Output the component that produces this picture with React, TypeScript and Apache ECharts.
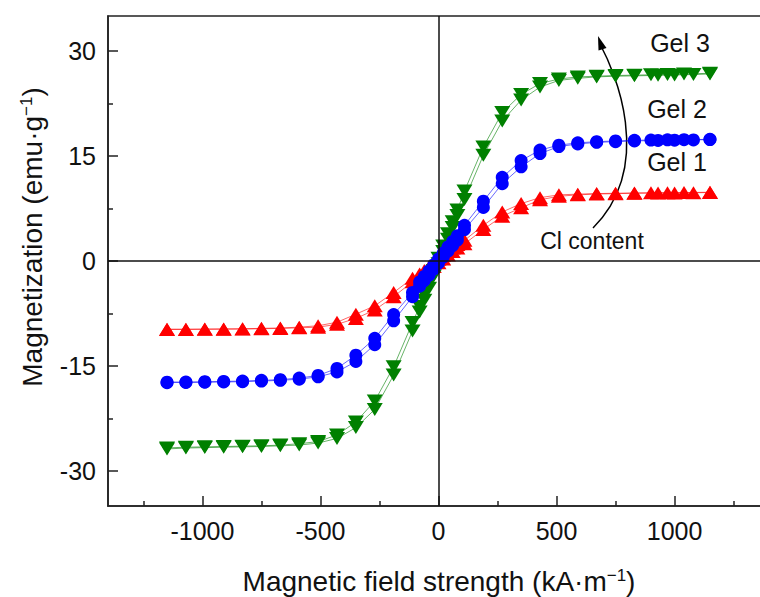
import React, { useEffect, useRef } from "react";
import * as echarts from "echarts";

// Magnetic field (kA·m^-1) — descending sweep (+ → −) and ascending sweep (− → +)
const fieldDown = [1150, 1040, 970, 900, 830, 750, 670, 590, 510, 430, 350, 270, 190, 110, 80, 60, 40, 20, 0, -20, -40, -60, -80, -110, -190, -270, -350, -430, -510, -590, -670, -750, -830, -910, -990, -1070, -1150];
const fieldUp = [-1150, -1070, -990, -910, -830, -750, -670, -590, -510, -430, -350, -270, -190, -110, -80, -60, -40, -20, 0, 20, 40, 60, 80, 110, 190, 270, 350, 430, 510, 590, 670, 750, 830, 930, 1000, 1080, 1150];

// Magnetization (emu·g^-1)
const gel1Down = [9.82, 9.78, 9.76, 9.74, 9.72, 9.68, 9.63, 9.55, 9.45, 9.05, 8.2, 7.0, 5.1, 2.95, 2.35, 1.85, 1.35, 0.8, 0.25, -0.3, -0.85, -1.35, -1.85, -2.45, -4.5, -6.4, -7.6, -8.75, -9.25, -9.45, -9.57, -9.62, -9.68, -9.7, -9.72, -9.74, -9.76];
const gel1Up = [-9.8, -9.78, -9.76, -9.74, -9.72, -9.68, -9.63, -9.55, -9.45, -9.05, -8.2, -7.0, -5.1, -2.95, -2.35, -1.85, -1.35, -0.8, -0.25, 0.3, 0.85, 1.35, 1.85, 2.45, 4.5, 6.4, 7.6, 8.75, 9.25, 9.45, 9.57, 9.62, 9.68, 9.71, 9.73, 9.75, 9.78];
const gel2Down = [17.38, 17.33, 17.31, 17.28, 17.24, 17.15, 17.05, 16.88, 16.55, 15.85, 14.35, 11.95, 8.55, 5.1, 3.6, 2.8, 2.0, 1.15, 0.3, -0.55, -1.4, -2.2, -3.0, -4.5, -7.65, -11.05, -13.45, -15.35, -16.35, -16.72, -16.95, -17.05, -17.15, -17.2, -17.25, -17.3, -17.32];
const gel2Up = [-17.38, -17.35, -17.32, -17.28, -17.24, -17.15, -17.05, -16.88, -16.55, -15.85, -14.35, -11.95, -8.55, -5.1, -3.6, -2.8, -2.0, -1.15, -0.3, 0.55, 1.4, 2.2, 3.0, 4.5, 7.65, 11.05, 13.45, 15.35, 16.35, 16.72, 16.95, 17.05, 17.15, 17.22, 17.26, 17.3, 17.34];
const gel3Down = [26.82, 26.7, 26.65, 26.6, 26.55, 26.5, 26.4, 26.3, 26.0, 25.35, 23.8, 21.2, 16.3, 10.0, 7.3, 5.6, 3.9, 2.15, 0.4, -1.35, -3.1, -4.8, -6.5, -8.8, -15.1, -20.0, -23.0, -24.85, -25.8, -26.1, -26.3, -26.4, -26.45, -26.5, -26.55, -26.6, -26.7];
const gel3Up = [-26.85, -26.72, -26.66, -26.6, -26.55, -26.5, -26.4, -26.3, -26.0, -25.35, -23.8, -21.2, -16.3, -10.0, -7.3, -5.6, -3.9, -2.15, -0.4, 1.35, 3.1, 4.8, 6.5, 8.8, 15.1, 20.0, 23.0, 24.85, 25.8, 26.1, 26.3, 26.4, 26.45, 26.52, 26.58, 26.64, 26.72];

const xMajorTicks = [-1000, -500, 0, 500, 1000];
const xMinorTicks = [-1250, -750, -250, 250, 750, 1250];
const yMajorTicks = [-30, -15, 0, 15, 30];
const yMinorTicks = [-22.5, -7.5, 7.5, 22.5];

const FONT = "'Liberation Sans', Arial, Helvetica, sans-serif";

function loop(xd: number[], yd: number[], xu: number[], yu: number[]) {
  return [...xd.map((x, i) => [x, yd[i]]), ...xu.map((x, i) => [x, yu[i]])];
}

export default function App() {
  const ref = useRef<HTMLDivElement>(null);
  useEffect(() => {
    document.body.style.overflow = "hidden";
    const chart = echarts.init(ref.current!, null, { renderer: "svg" });
    const axisColor = "#222";
    const mkX = (ticks: number[], len: number, labels: boolean) => ({
      type: "value",
      min: -1400,
      max: 1400,
      position: "bottom",
      axisLine: { show: labels, onZero: false, lineStyle: { color: axisColor, width: 1.6 } },
      axisTick: { show: true, inside: true, length: len, customValues: ticks, lineStyle: { color: axisColor, width: 1.5 } },
      axisLabel: labels
        ? { show: true, customValues: ticks, fontSize: 25, color: "#111", fontFamily: FONT, margin: 12, formatter: (v: number) => String(v) }
        : { show: false },
      splitLine: { show: false },
    });
    const mkY = (ticks: number[], len: number, labels: boolean) => ({
      type: "value",
      min: -35,
      max: 35,
      position: "left",
      axisLine: { show: labels, onZero: false, lineStyle: { color: axisColor, width: 1.6 } },
      axisTick: { show: true, inside: true, length: len, customValues: ticks, lineStyle: { color: axisColor, width: 1.5 } },
      axisLabel: labels
        ? { show: true, customValues: ticks, fontSize: 25, color: "#111", fontFamily: FONT, margin: 12, formatter: (v: number) => String(v) }
        : { show: false },
      splitLine: { show: false },
    });
    const seriesBase = (name: string, color: string, symbol: string, size: any, rotate: number, data: any) => ({
      name,
      type: "line",
      data,
      symbol,
      symbolSize: size,
      symbolRotate: rotate,
      showSymbol: true,
      lineStyle: { color, width: 0.8, opacity: 0.75 },
      itemStyle: { color, borderWidth: 0 },
      z: 3,
    });
    chart.setOption({
      animation: false,
      backgroundColor: "#ffffff",
      grid: { left: 108, right: 11, top: 16, bottom: 91, show: true, borderColor: axisColor, borderWidth: 1.6, backgroundColor: "transparent" },
      xAxis: [mkX(xMajorTicks, 10, true), mkX(xMinorTicks, 5, false)],
      yAxis: [mkY(yMajorTicks, 10, true), mkY(yMinorTicks, 5, false)],
      series: [
        {
          type: "line",
          data: [],
          z: 1,
          markLine: {
            silent: true,
            symbol: ["none", "none"],
            label: { show: false },
            lineStyle: { color: "#111", width: 1.5, type: "solid" },
            data: [{ xAxis: 0 }, { yAxis: 0 }],
          },
        },
        seriesBase("Gel 1", "#ff0000", "triangle", [16, 13], 0, loop(fieldDown, gel1Down, fieldUp, gel1Up)),
        seriesBase("Gel 3", "#008000", "triangle", [16, 13], 180, loop(fieldDown, gel3Down, fieldUp, gel3Up)),
        seriesBase("Gel 2", "#0000ff", "circle", 13, 0, loop(fieldDown, gel2Down, fieldUp, gel2Up)),
      ],
      graphic: [
        {
          type: "text",
          x: 439,
          y: 581,
          style: {
            text: "{a|Magnetic field strength (kA·m}{s|−1}{a|)}",
            rich: {
              a: { fontSize: 28, fontFamily: FONT, fill: "#111" },
              s: { fontSize: 17, fontFamily: FONT, fill: "#111", verticalAlign: "top" },
            },
            align: "center",
            verticalAlign: "middle",
          },
        },
        {
          type: "text",
          x: 32,
          y: 237,
          rotation: Math.PI / 2,
          style: {
            text: "{a|Magnetization (emu·g}{s|−1}{a|)}",
            rich: {
              a: { fontSize: 28, fontFamily: FONT, fill: "#111" },
              s: { fontSize: 17, fontFamily: FONT, fill: "#111", verticalAlign: "top" },
            },
            align: "center",
            verticalAlign: "middle",
          },
        },
        { type: "text", x: 680, y: 43, style: { text: "Gel 3", fontSize: 25, fontFamily: FONT, fill: "#111", align: "center", verticalAlign: "middle" } },
        { type: "text", x: 677, y: 109, style: { text: "Gel 2", fontSize: 25, fontFamily: FONT, fill: "#111", align: "center", verticalAlign: "middle" } },
        { type: "text", x: 677, y: 162, style: { text: "Gel 1", fontSize: 25, fontFamily: FONT, fill: "#111", align: "center", verticalAlign: "middle" } },
        { type: "text", x: 592, y: 241, style: { text: "Cl content", fontSize: 23, fontFamily: FONT, fill: "#111", align: "center", verticalAlign: "middle" } },
        {
          type: "bezierCurve",
          shape: { x1: 593, y1: 228, cpx1: 656, cpy1: 165, cpx2: 614, cpy2: 70, x2: 600, y2: 44 },
          style: { stroke: "#000", lineWidth: 1.5, fill: "none" },
        },
        {
          type: "polygon",
          shape: { points: [[598, 36], [606.5, 48], [598.5, 50.5]] },
          style: { fill: "#000" },
        },
      ],
    });
    return () => chart.dispose();
  }, []);
  return <div ref={ref} style={{ position: "fixed", left: 0, top: 0, width: 780, height: 597, background: "#fff" }} />;
}
